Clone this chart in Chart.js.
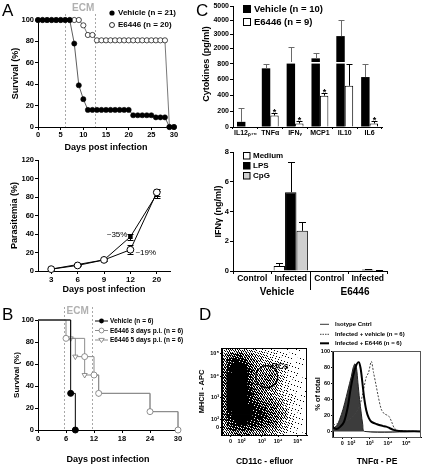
<!DOCTYPE html>
<html>
<head>
<meta charset="utf-8">
<title>Figure</title>
<script src="https://cdn.jsdelivr.net/npm/chart.js@4.4.1/dist/chart.umd.min.js"></script>
<style>
html,body{margin:0;padding:0;background:#fff;}
#fig{position:relative;width:423px;height:467px;overflow:hidden;background:#fff;}
#fig canvas{position:absolute;}
.t{position:absolute;white-space:nowrap;line-height:1;color:#000;font-family:'Liberation Sans',Arial,sans-serif;}
</style>
</head>
<body>
<div id="fig"></div>
<script>
// ================= DATA =================
// Panel A (top) - survival per day
const aDays = [0,1,2,3,4,5,6,7,8,9,10,11,12,13,14,15,16,17,18,19,20,21,22,23,24,25,26,27,28,29,30];
const aVehicle = [100,100,100,100,100,100,100,100,78,39,26,16,16,16,16,16,16,16,16,16,16,11,11,11,11,11,9,9,9,0,0];
const aE6446  = [100,100,100,100,100,100,100,100,100,100,95,86,86,81,81,81,81,81,81,81,81,81,81,81,81,81,81,81,81,0,0];
const aEcmDays = [6, 12.6];
const aXTicks = [0,5,10,15,20,25,30];
const aYTicks = [0,20,40,60,80,100];
// Panel A (bottom) - parasitemia
const paraDays = ['3','6','9','12','20'];
const paraVehicle = [2,7,12,37,83];
const paraVehicleErr = [0.5,1,1,3,4];
const paraE6446 = [2,6,12,23,85];
const paraE6446Err = [0.5,1,1,5,4];
const paraYTicks = [0,20,40,60,80,100,120];
// Panel B - survival (Kaplan-Meier steps)
const bVehDays = [0,7,8];
const bVehSurv = [100,33.3,0];
const b3Days = [0,6,10,12,13,24,30];
const b3Surv = [100,83.3,66.7,50,33.3,16.7,0];
const b5Days = [0,7,8,10,13,24,30];
const b5Surv = [100,83.3,66.7,50,33.3,16.7,0];
const bEcmDays = [5.5, 11.5];
const bXTicks = [0,6,12,18,24,30];
const bYTicks = [0,20,40,60,80,100];
// Panel C (top) - cytokines
const cytoLabels = ['IL12\u209A\u2087\u2080','TNF\u03B1','IFN\u1D67','MCP1','IL10','IL6'];
const cytoVehicle = [65,740,1000,1260,2850,630];
const cytoVehicleErr = [180,55,1100,360,1150,170];
const cytoE6446 = [0,145,45,395,520,45];
const cytoE6446Err = [0,35,30,35,280,30];
const cytoSig = [0,1,1,1,0,1];
const cytoLowTicks = [0,200,400,600,800];
const cytoHighTicks = [2000,3000,4000,5000];
// Panel C (bottom) - IFNg
const ifnGroups = ['Control','Infected','Control','Infected'];
const ifnMedium = [0,0.34,0,0.02];
const ifnMediumErr = [0,0.2,0,0];
const ifnLPS = [0,5.3,0,0.1];
const ifnLPSErr = [0,2.0,0,0.05];
const ifnCpG = [0,2.7,0,0.05];
const ifnCpGErr = [0,0.6,0,0.02];
const ifnTicks = [0,2,4,6,8];
// Panel D (left) - MHCII vs CD11c event density (17x17 bins, top row first, 0-9)
const dotDensity = [
 [2,3,3,3,3,2,2,1,1,1,0.5,0.5,0.3,0.2,0.2,0.1,0.1],
 [3,5,6,6,5,4,3,2,2,1,1,0.5,0.5,0.3,0.2,0.1,0.1],
 [4,7,8,8,7,5,4,3,2,2,1,1,0.5,0.3,0.3,0.2,0.1],
 [4,8,9,9,8,6,4,3,3,3,2,1,1,0.5,0.3,0.2,0.1],
 [5,8,9,9,9,7,5,4,4,4,3,2,1,0.5,0.3,0.2,0.1],
 [5,9,9,9,9,7,5,4,5,5,4,2,1,0.5,0.3,0.2,0.1],
 [5,9,9,9,9,7,5,4,5,5,4,2,1,0.5,0.3,0.2,0.1],
 [5,9,9,9,9,7,5,4,4,4,3,2,1,0.5,0.3,0.2,0.1],
 [5,9,9,9,9,8,6,5,4,3,3,2,1,0.5,0.3,0.2,0.1],
 [5,9,9,9,9,8,6,5,4,4,3,2,1,1,0.5,0.2,0.1],
 [5,9,9,9,9,8,7,6,5,5,4,3,2,1,0.5,0.3,0.1],
 [5,9,9,9,9,9,8,7,6,5,5,4,2,1,0.5,0.3,0.1],
 [5,8,9,9,9,9,8,8,7,6,5,4,3,1,0.5,0.3,0.1],
 [5,8,9,9,9,9,8,8,7,6,5,4,3,1,0.5,0.3,0.1],
 [4,7,8,9,9,8,8,7,6,6,5,3,2,1,0.5,0.2,0.1],
 [4,6,7,7,7,7,6,6,5,4,4,3,2,1,0.5,0.2,0.1],
 [3,4,5,5,5,5,4,4,4,3,3,2,1,0.5,0.3,0.2,0.1]
];
const dotTickPosX = [10,23,47,66,89];
const dotTickPosY = [9,18,43,67,94];
const logTickLabels = ['0','10\u00B2','10\u00B3','10\u2074','10\u2075'];
const dcGateCenter = [52.6, 67];
// Panel D (right) - TNFa histograms
const isoX = [0,0.2,0.36,0.55,0.73,0.9,1.0,1.1,1.2,1.28,1.36,1.45,1.54,1.62,1.72,4.8];
const isoY = [4,7,15,28,44,60,69,80,85,80,61,40,23,9,0,0];
const e64X = [0,0.2,0.4,0.6,0.8,0.95,1.1,1.25,1.4,1.5,1.6,1.7,1.81,1.95,2.1,2.4,2.7,2.9,3.1,3.3,3.6,4.8];
const e64Y = [5,3,6,12,30,52,70,82,87,80,62,42,27,17,12,9,7,6,4,2,0.5,0];
const vehX = [0,0.3,0.6,0.9,1.2,1.45,1.63,1.81,1.94,2.09,2.21,2.35,2.45,2.63,2.8,2.9,3.05,3.2,3.35,3.6,4.8];
const vehY = [8,10,12,15,22,32,48,68,74,88,74,58,46,28,22,21,19,12,4,1,0];
const histXTicks = [0.5,1,2,3,4];
const histYTicks = [0,20,40,60,80,100];

// ================= HELPERS =================
const FONT = "'Liberation Sans', Arial, sans-serif";
const fig = document.getElementById('fig');

function txt(s, x, y, o = {}) {
  const d = document.createElement('div');
  d.className = 't';
  d.textContent = s;
  d.style.left = x + 'px'; d.style.top = y + 'px';
  d.style.fontSize = (o.size || 8) + 'px';
  d.style.fontWeight = o.weight || 'bold';
  if (o.color) d.style.color = o.color;
  const tx = o.align === 'left' ? '0' : o.align === 'right' ? '-100%' : '-50%';
  d.style.transform = `translate(${tx},-50%)` + (o.rot ? ` rotate(${o.rot}deg)` : '');
  fig.appendChild(d);
  return d;
}

function sc(o) {
  const s = {
    type: o.type || 'linear',
    offset: !!o.offset,
    grid: {display: true, drawOnChartArea: false, drawTicks: true, tickLength: o.tl ?? 3, color: '#000', lineWidth: 1},
    border: {display: true, color: '#000', width: 1},
    ticks: {color: '#000', font: {family: FONT, size: o.fs || 7.5, weight: 'bold'}, padding: o.tp ?? 1,
            maxRotation: 0, minRotation: 0, autoSkip: false}
  };
  if (o.min !== undefined) s.min = o.min;
  if (o.max !== undefined) s.max = o.max;
  if (o.tickValues) {
    const tv = o.tickValues;
    s.afterBuildTicks = axis => { axis.ticks = tv.map(v => ({value: v})); };
    const tl = o.tickLabels;
    s.ticks.callback = (v, i) => tl ? tl[i] : String(v);
  }
  if (o.stack) { s.stack = o.stack; s.stackWeight = o.stackWeight; }
  if (o.position) s.position = o.position;
  if (o.title) s._title = o.title;
  return s;
}

function mkChart(box, plot, config) {
  const c = document.createElement('canvas');
  c.width = box.w; c.height = box.h;
  c.style.left = box.x + 'px'; c.style.top = box.y + 'px';
  c.style.width = box.w + 'px'; c.style.height = box.h + 'px';
  fig.appendChild(c);
  const o = config.options = config.options || {};
  o.responsive = false; o.animation = false; o.devicePixelRatio = 1;
  o.events = [];
  o.layout = {padding: {left: 0, top: plot.t - box.y, right: box.x + box.w - plot.r, bottom: 0}};
  o.plugins = Object.assign({legend: {display: false}, tooltip: {enabled: false}}, o.plugins || {});
  const yw = plot.l - box.x, xh = box.y + box.h - plot.b;
  for (const [id, s] of Object.entries(o.scales)) {
    const isX = id[0] === 'x';
    s.afterFit = isX ? (a => { a.height = xh; }) : (a => { a.width = yw; });
    if (s._title) {
      const t = s._title, lh = t.size * 1.2;
      s.title = {display: true, text: t.text, color: '#000', font: {family: FONT, size: t.size, weight: 'bold', lineHeight: 1.2}};
      s.title.padding = isX ? {top: 0, bottom: (box.y + box.h) - t.at - lh / 2} : {top: t.at - box.x - lh / 2, bottom: 0};
      delete s._title;
    }
  }
  return new Chart(c.getContext('2d'), config);
}

// ---- plugins ----
function drawErr(chart, behind) {
  const ctx = chart.ctx;
  chart.data.datasets.forEach((ds, i) => {
    if (!ds.errs || !!ds.errBehind !== behind) return;
    const meta = chart.getDatasetMeta(i);
    const ys = chart.scales[meta.yAxisID];
    const map = v => ds.errMap ? ds.errMap(chart, v) : ys.getPixelForValue(v);
    ctx.save();
    ctx.strokeStyle = ds.errColor || '#000';
    ctx.lineWidth = 1;
    const cap = ds.errCap || 3;
    ds.errs.forEach((e, j) => {
      const el = meta.data[j];
      if (!el || !e) return;
      const v = ds.errVals[j];
      const x = Math.round(el.x) + 0.5;
      const yT = Math.round(map(v + e)) + 0.5;
      const yB = ds.errBoth ? Math.round(map(v - e)) + 0.5 : map(v);
      ctx.beginPath();
      ctx.moveTo(x, yB); ctx.lineTo(x, yT);
      ctx.moveTo(x - cap, yT); ctx.lineTo(x + cap, yT);
      if (ds.errBoth) { ctx.moveTo(x - cap, yB); ctx.lineTo(x + cap, yB); }
      ctx.stroke();
      if (ds.sig && ds.sig[j]) {
        ctx.fillStyle = '#000';
        ctx.font = `bold 9px ${FONT}`;
        ctx.textAlign = 'center'; ctx.textBaseline = 'alphabetic';
        ctx.fillText('*', x, yT + 1);
      }
    });
    ctx.restore();
  });
}
const errPlugin = {id: 'errbars',
  beforeDatasetsDraw(chart) { drawErr(chart, true); },
  afterDatasetsDraw(chart) { drawErr(chart, false); }};

const ecmPlugin = {id: 'ecm',
  beforeDatasetsDraw(chart, args, opts) {
    const {ctx, chartArea} = chart, x = chart.scales.x;
    ctx.save();
    ctx.strokeStyle = '#a8a8a8'; ctx.lineWidth = 1; ctx.setLineDash([2, 2]);
    opts.days.forEach(d => {
      const px = Math.round(x.getPixelForValue(d)) + 0.5;
      ctx.beginPath(); ctx.moveTo(px, opts.lineTop); ctx.lineTo(px, chartArea.bottom); ctx.stroke();
    });
    ctx.setLineDash([]);
    ctx.fillStyle = '#b0b0b0'; ctx.font = `bold 10px ${FONT}`;
    ctx.textAlign = 'center'; ctx.textBaseline = 'middle';
    const mid = (x.getPixelForValue(opts.days[0]) + x.getPixelForValue(opts.days[1])) / 2 + (opts.shift || 0);
    ctx.fillText('ECM', mid, opts.labelY);
    ctx.restore();
  }};

const notePlugin = {id: 'notes',
  afterDatasetsDraw(chart) {
    const ctx = chart.ctx;
    chart.data.datasets.forEach((ds, i) => {
      if (!ds.note) return;
      const el = chart.getDatasetMeta(i).data[ds.note.idx];
      ctx.save();
      ctx.fillStyle = '#000'; ctx.font = `8px ${FONT}`; ctx.textBaseline = 'middle';
      if (ds.note.side === 'left') { ctx.textAlign = 'right'; ctx.fillText(ds.note.text, el.x - 3, el.y - 2); }
      else { ctx.textAlign = 'left'; ctx.fillText(ds.note.text, el.x + 5, el.y + 3.5); }
      ctx.restore();
    });
  }};

const framePlugin = {id: 'frame',
  afterDraw(chart, args, opts) {
    const {ctx, chartArea: a} = chart;
    ctx.save(); ctx.strokeStyle = opts.color; ctx.lineWidth = 1;
    ctx.strokeRect(Math.round(a.left) - 0.5, Math.round(a.top) + 0.5, Math.round(a.right - a.left), Math.round(a.bottom - a.top));
    ctx.restore();
  }};

const gatePlugin = {id: 'gate',
  afterDatasetsDraw(chart, args, opts) {
    const {ctx} = chart, x = chart.scales.x, y = chart.scales.y;
    ctx.save(); ctx.strokeStyle = '#000'; ctx.lineWidth = 1.2;
    ctx.beginPath();
    ctx.arc(x.getPixelForValue(opts.center[0]), y.getPixelForValue(opts.center[1]), 11, 0, Math.PI * 2);
    ctx.stroke(); ctx.restore();
  }};

const sepPlugin = {id: 'sep',
  afterDraw(chart) {
    const {ctx, chartArea: a} = chart, x = chart.scales.x;
    const px = Math.round((x.getPixelForValue(1) + x.getPixelForValue(2)) / 2) + 0.5;
    ctx.save(); ctx.strokeStyle = '#000'; ctx.lineWidth = 1;
    ctx.beginPath(); ctx.moveTo(px, a.bottom); ctx.lineTo(px, a.bottom + 19); ctx.stroke(); ctx.restore();
  }};

// ================= PANEL A (top) =================
mkChart({x: 0, y: 0, w: 195, h: 155}, {l: 38, t: 20, r: 174, b: 127}, {
  type: 'line',
  data: {datasets: [
    {data: aDays.map((d, i) => ({x: d, y: aVehicle[i]})), borderColor: '#333', borderWidth: 0.8,
     pointRadius: 2.6, pointBackgroundColor: '#000', pointBorderColor: '#000', pointBorderWidth: 0.5, clip: false},
    {data: aDays.map((d, i) => ({x: d, y: aE6446[i]})), borderColor: '#555', borderWidth: 0.8,
     pointRadius: 2.6, pointBackgroundColor: '#fff', pointBorderColor: '#000', pointBorderWidth: 0.7, clip: false}
  ]},
  options: {
    scales: {
      x: sc({min: 0, max: 30, tickValues: aXTicks, tp: 0, title: {text: 'Days post infection', at: 148, size: 9}}),
      y: sc({min: 0, max: 100, tickValues: aYTicks, title: {text: 'Survival (%)', at: 16, size: 9}})
    },
    plugins: {ecm: {days: aEcmDays, labelY: 8, lineTop: 14, shift: 3}}
  },
  plugins: [ecmPlugin]
});

// ================= PANEL A (bottom) =================
mkChart({x: 0, y: 150, w: 195, h: 148}, {l: 38, t: 160, r: 170, b: 271}, {
  type: 'line',
  data: {labels: paraDays, datasets: [
    {data: paraE6446, borderColor: '#000', borderWidth: 1, pointRadius: 3.4, pointStyle: 'circle',
     pointBackgroundColor: '#fff', pointBorderColor: '#000', pointBorderWidth: 1, clip: false,
     errVals: paraE6446, errs: paraE6446Err, errBoth: true, errBehind: true, errCap: 3,
     note: {idx: 3, text: '~19%', side: 'right'}},
    {data: paraVehicle, borderColor: '#000', borderWidth: 1, pointRadius: 3.2, pointStyle: 'rect',
     pointBackgroundColor: '#000', pointBorderColor: '#000', pointBorderWidth: 0, clip: false,
     errVals: paraVehicle, errs: paraVehicleErr, errBoth: true, errBehind: true, errCap: 3,
     note: {idx: 3, text: '~35%', side: 'left'}}
  ]},
  options: {
    scales: {
      x: sc({type: 'category', offset: true, tp: 1, fs: 8, title: {text: 'Days post infection', at: 290, size: 9}}),
      y: sc({min: 0, max: 120, tickValues: paraYTicks, title: {text: 'Parasitemia (%)', at: 15, size: 9}})
    }
  },
  plugins: [errPlugin, notePlugin]
});

// ================= PANEL B =================
const kmRadius = ctx => ctx.dataIndex === 0 ? 0 : 3;
mkChart({x: 0, y: 300, w: 200, h: 167}, {l: 38, t: 320, r: 178, b: 430}, {
  type: 'line',
  data: {datasets: [
    {data: bVehDays.map((d, i) => ({x: d, y: bVehSurv[i]})), stepped: 'before', borderColor: '#000', borderWidth: 1,
     pointRadius: kmRadius, pointBackgroundColor: '#000', pointBorderColor: '#000', clip: false},
    {data: b3Days.map((d, i) => ({x: d, y: b3Surv[i]})), stepped: 'before', borderColor: '#8c8c8c', borderWidth: 1,
     pointRadius: kmRadius, pointBackgroundColor: '#fff', pointBorderColor: '#777', pointBorderWidth: 0.8, clip: false},
    {data: b5Days.map((d, i) => ({x: d, y: b5Surv[i]})), stepped: 'before', borderColor: '#8c8c8c', borderWidth: 1,
     pointRadius: kmRadius, pointStyle: 'triangle', pointRotation: 180, pointBackgroundColor: '#fff',
     pointBorderColor: '#777', pointBorderWidth: 0.8, clip: false}
  ]},
  options: {
    scales: {
      x: sc({min: 0, max: 30, tickValues: bXTicks, tp: 1, title: {text: 'Days post infection', at: 460, size: 9}}),
      y: sc({min: 0, max: 100, tickValues: bYTicks, title: {text: 'Survival (%)', at: 17, size: 8}})
    },
    plugins: {ecm: {days: bEcmDays, labelY: 11, lineTop: 7, shift: 0}}
  },
  plugins: [ecmPlugin]
});

// ================= PANEL C (top) =================
function cytoPix(chart, v) {
  const lo = chart.scales.y, hi = chart.scales.y2;
  if (v <= 800) return lo.getPixelForValue(v);
  if (v >= 1000) return hi.getPixelForValue(v);
  const a = lo.getPixelForValue(800), b = hi.getPixelForValue(1000);
  return a + (b - a) * (v - 800) / 200;
}
mkChart({x: 205, y: 0, w: 218, h: 140}, {l: 233, t: 6, r: 382, b: 127}, {
  type: 'bar',
  data: {labels: cytoLabels, datasets: [
    {data: cytoVehicle.map(v => Math.min(v, 800)), yAxisID: 'y', stack: 'veh', backgroundColor: '#000', borderWidth: 0,
     errVals: cytoVehicle, errs: cytoVehicleErr, errColor: '#6a6a6a', errMap: cytoPix, errCap: 3},
    {data: cytoVehicle.map(v => v > 1000 ? [1000, v] : null), yAxisID: 'y2', stack: 'veh', backgroundColor: '#000', borderWidth: 0},
    {data: cytoE6446.map(v => Math.min(v, 800)), yAxisID: 'y', stack: 'e64', backgroundColor: '#fff', borderColor: '#000', borderWidth: 1,
     errVals: cytoE6446, errs: cytoE6446Err, errColor: '#000', errMap: cytoPix, errCap: 3, sig: cytoSig},
    {data: cytoE6446.map(v => v > 1000 ? [1000, v] : null), yAxisID: 'y2', stack: 'e64', backgroundColor: '#fff', borderColor: '#000', borderWidth: 1}
  ]},
  options: {
    categoryPercentage: 0.68, barPercentage: 1,
    scales: {
      x: sc({type: 'category', offset: true, tp: 0, tl: 2, fs: 7}),
      y: sc({min: 0, max: 820, tickValues: cytoLowTicks, stack: 'cy', stackWeight: 65, position: 'left', fs: 7}),
      y2: sc({min: 1000, max: 5000, tickValues: cytoHighTicks, stack: 'cy', stackWeight: 56, position: 'left', fs: 7})
    }
  },
  plugins: [errPlugin]
});

// ================= PANEL C (bottom) =================
mkChart({x: 205, y: 140, w: 218, h: 158}, {l: 233, t: 152, r: 387, b: 271}, {
  type: 'bar',
  data: {labels: ifnGroups, datasets: [
    {data: ifnMedium, backgroundColor: '#fff', borderColor: '#000', borderWidth: 1,
     errVals: ifnMedium, errs: ifnMediumErr, errCap: 3.5},
    {data: ifnLPS, backgroundColor: '#000', borderColor: '#000', borderWidth: 1,
     errVals: ifnLPS, errs: ifnLPSErr, errCap: 3.5},
    {data: ifnCpG, backgroundColor: '#cfcfcf', borderColor: '#000', borderWidth: 1,
     errVals: ifnCpG, errs: ifnCpGErr, errCap: 3.5}
  ]},
  options: {
    categoryPercentage: 0.89, barPercentage: 1,
    scales: {
      x: sc({type: 'category', offset: true, tp: 0, fs: 8.5}),
      y: sc({min: 0, max: 8, tickValues: ifnTicks, fs: 7.5, title: {text: 'IFN\u03B3 (ng/ml)', at: 219, size: 9}})
    }
  },
  plugins: [errPlugin, sepPlugin]
});

// ================= PANEL D (dot plot) =================
// speckle texture (deterministic interleaved-gradient threshold field), a drawing style only
const D1W = 120, D1H = 127;
function ign(x, y) { const f = 0.06711056 * x + 0.00583715 * y; return (52.9829189 * (f - Math.floor(f))) % 1; }
const patCache = {};
function densPattern(d) {
  const p = Math.pow(Math.min(d, 9) / 9, 0.85);
  const key = p.toFixed(3);
  if (patCache[key]) return patCache[key];
  const pc = document.createElement('canvas'); pc.width = D1W; pc.height = D1H;
  const px = pc.getContext('2d');
  const img = px.createImageData(D1W, D1H);
  for (let yy = 0; yy < D1H; yy++) for (let xx = 0; xx < D1W; xx++) {
    if (ign(xx, yy) < p) { const k = (yy * D1W + xx) * 4; img.data[k + 3] = 255; }
  }
  px.putImageData(img, 0, 0);
  patCache[key] = px.createPattern(pc, 'repeat');
  return patCache[key];
}
const nRows = dotDensity.length, nCols = dotDensity[0].length;
const dotCells = [];
dotDensity.forEach((row, r) => row.forEach((d, c) => {
  if (d > 0) dotCells.push({x: (c + 0.5) * 100 / nCols, y: 100 - (r + 0.5) * 100 / nRows, d});
}));
mkChart({x: 195, y: 340, w: D1W, h: D1H}, {l: 222, t: 348, r: 307, b: 435}, {
  type: 'scatter',
  data: {datasets: [{
    data: dotCells, pointStyle: 'rect', borderWidth: 0, pointBorderWidth: 0,
    pointRadius: ctx => {
      const xs = ctx.chart.scales.x;
      const w = Math.abs(xs.getPixelForValue(100 / nCols) - xs.getPixelForValue(0));
      return (w / 2 + 0.5) / Math.SQRT1_2;
    },
    pointBackgroundColor: ctx => densPattern(ctx.raw ? ctx.raw.d : 0)
  }]},
  options: {
    scales: {
      x: sc({min: 0, max: 100, tickValues: dotTickPosX, tickLabels: logTickLabels, fs: 5.5, tl: 2, tp: 1,
             title: {text: 'CD11c - efluor', at: 461.5, size: 8.5}}),
      y: sc({min: 0, max: 100, tickValues: dotTickPosY, tickLabels: logTickLabels, fs: 5.5, tl: 2, tp: 1,
             title: {text: 'MHCII - APC', at: 202, size: 7.5}})
    },
    plugins: {frame: {color: '#000'}, gate: {center: dcGateCenter}}
  },
  plugins: [framePlugin, gatePlugin]
});

// ================= PANEL D (histogram) =================
mkChart({x: 310, y: 345, w: 113, h: 122}, {l: 333, t: 351, r: 421, b: 437}, {
  type: 'line',
  data: {datasets: [
    {data: e64X.map((x, i) => ({x, y: e64Y[i]})), borderColor: '#000', borderWidth: 2, pointRadius: 0, tension: 0.3},
    {data: vehX.map((x, i) => ({x, y: vehY[i]})), borderColor: '#444', borderWidth: 1, borderDash: [2, 1.5], pointRadius: 0, tension: 0.3},
    {data: isoX.map((x, i) => ({x, y: isoY[i]})), borderColor: '#222', borderWidth: 1, backgroundColor: '#3c3c3c',
     fill: 'origin', pointRadius: 0, tension: 0.3}
  ]},
  options: {
    scales: {
      x: sc({type: 'linear', min: 0, max: 4.8, tickValues: histXTicks, tickLabels: logTickLabels, fs: 5.5, tl: 2, tp: 1,
             title: {text: 'TNF\u03B1 - PE', at: 461.5, size: 8.5}}),
      y: sc({min: -7, max: 101, tickValues: histYTicks, fs: 5.5, tl: 2, tp: 1,
             title: {text: '% of total', at: 318, size: 7.5}})
    },
    plugins: {frame: {color: '#555'}}
  },
  plugins: [framePlugin]
});

// ================= OVERLAY: legends & labels =================
const svgNS = 'http://www.w3.org/2000/svg';
const ov = document.createElementNS(svgNS, 'svg');
ov.setAttribute('width', 423); ov.setAttribute('height', 467);
ov.style.position = 'absolute'; ov.style.left = '0'; ov.style.top = '0';
ov.innerHTML = `
  <circle cx="112" cy="13" r="2.6" fill="#000"/>
  <circle cx="112" cy="25" r="2.5" fill="#fff" stroke="#000" stroke-width="0.8"/>
  <line x1="95" y1="321" x2="108" y2="321" stroke="#000" stroke-width="1"/>
  <circle cx="101.5" cy="321" r="2.4" fill="#000"/>
  <line x1="95" y1="330.5" x2="108" y2="330.5" stroke="#8c8c8c" stroke-width="1"/>
  <circle cx="101.5" cy="330.5" r="2.4" fill="#fff" stroke="#777" stroke-width="0.8"/>
  <line x1="95" y1="340" x2="108" y2="340" stroke="#8c8c8c" stroke-width="1"/>
  <polygon points="98.8,338.4 104.2,338.4 101.5,342.6" fill="#fff" stroke="#777" stroke-width="0.8"/>
  <rect x="243" y="5" width="8" height="8" fill="#000"/>
  <rect x="243.5" y="18.5" width="7" height="7" fill="#fff" stroke="#000" stroke-width="1"/>
  <rect x="243.5" y="152.5" width="6.5" height="6.5" fill="#fff" stroke="#000" stroke-width="1"/>
  <rect x="243" y="162" width="7.5" height="7.5" fill="#000"/>
  <rect x="243.5" y="172.5" width="6.5" height="6.5" fill="#cfcfcf" stroke="#000" stroke-width="1"/>
  <line x1="320" y1="324.3" x2="329" y2="324.3" stroke="#000" stroke-width="0.8"/>
  <line x1="320" y1="334.3" x2="329" y2="334.3" stroke="#444" stroke-width="1" stroke-dasharray="1.5,1"/>
  <line x1="320" y1="343.3" x2="329" y2="343.3" stroke="#000" stroke-width="2"/>
`;
fig.appendChild(ov);

txt('A', 2, 10, {size: 17, weight: 'normal', align: 'left'});
txt('B', 2, 314, {size: 17, weight: 'normal', align: 'left'});
txt('C', 196, 10, {size: 17, weight: 'normal', align: 'left'});
txt('D', 199, 314, {size: 17, weight: 'normal', align: 'left'});

txt('Vehicle (n = 21)', 118, 13, {size: 8, align: 'left'});
txt('E6446 (n = 20)', 118, 25, {size: 8, align: 'left'});

txt('Vehicle (n = 6)', 110, 321, {size: 6.5, align: 'left'});
txt('E6446 3 days p.i. (n = 6)', 110, 330.5, {size: 6.5, align: 'left'});
txt('E6446 5 days p.i. (n = 6)', 110, 340, {size: 6.5, align: 'left'});

txt('Cytokines (pg/ml)', 206, 64, {size: 9, rot: -90});
txt('Vehicle  (n = 10)', 254, 9, {size: 9.5, align: 'left'});
txt('E6446 (n = 9)', 254, 22, {size: 9.5, align: 'left'});

txt('Medium', 253, 156, {size: 8, align: 'left'});
txt('LPS', 253, 166, {size: 8, align: 'left'});
txt('CpG', 253, 176, {size: 8, align: 'left'});
txt('Vehicle', 277, 292, {size: 10});
txt('E6446', 355, 292, {size: 10});

txt('DCs', 280, 366, {size: 8.5});
txt('Isotype Cntrl', 335, 324.3, {size: 6, align: 'left'});
txt('Infected + vehicle (n = 6)', 335, 334.3, {size: 6, align: 'left'});
txt('Infected + E6446 (n = 6)', 335, 343.3, {size: 6, align: 'left'});
</script>
</body>
</html>
